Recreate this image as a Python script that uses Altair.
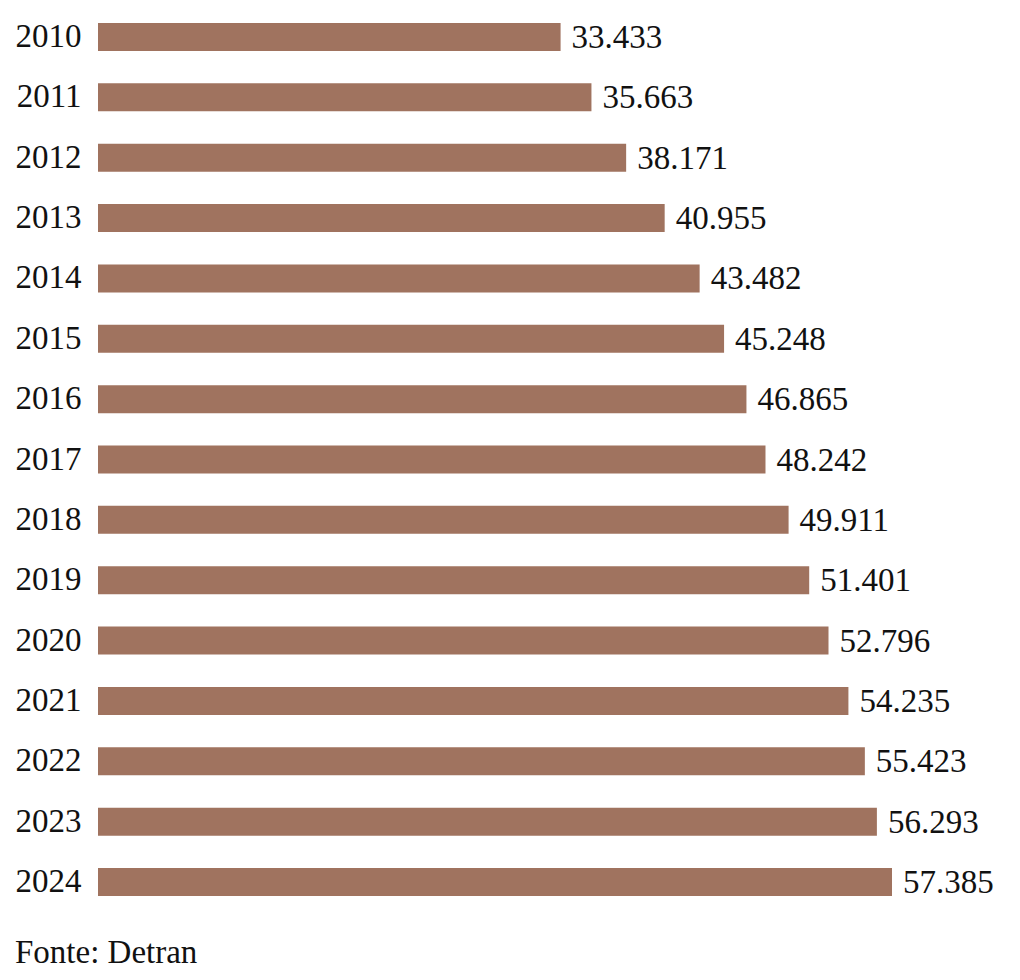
import altair as alt
import pandas as pd

years = ["2010", "2011", "2012", "2013", "2014", "2015", "2016", "2017",
         "2018", "2019", "2020", "2021", "2022", "2023", "2024"]
values = [33433, 35663, 38171, 40955, 43482, 45248, 46865, 48242,
          49911, 51401, 52796, 54235, 55423, 56293, 57385]

df = pd.DataFrame({"ano": years, "valor": values})

FONT = "Liberation Serif"
FS = 33

base = alt.Chart(df).encode(
    y=alt.Y("ano:N", sort=years, title=None,
            scale=alt.Scale(paddingInner=0.536, paddingOuter=0.2485),
            axis=alt.Axis(domain=False, ticks=False, grid=False,
                          labelFont=FONT, labelFontSize=FS, labelColor="#111111",
                          labelPadding=17)),
    x=alt.X("valor:Q", axis=None, scale=alt.Scale(domain=[0, 57385], nice=False, zero=True)),
)

bars = base.mark_bar(color="#a0735f")

labels = base.transform_calculate(
    rotulo="replace(format(datum.valor, ','), ',', '.')"
).mark_text(align="left", baseline="middle", dx=11, dy=1, font=FONT, fontSize=FS,
            color="#111111").encode(text="rotulo:N")

chart = (bars + labels).properties(
    width=794,
    height=903,
    background="white",
    autosize=alt.AutoSizeParams(type="none"),
    padding={"left": 90, "top": 0, "right": 120, "bottom": 65},
    title=alt.TitleParams(text="Fonte: Detran", orient="bottom", anchor="start",
                          frame="bounds", font=FONT, fontSize=FS, fontWeight="normal",
                          color="#111111", offset=26),
).configure_view(strokeWidth=0)

chart.save("out.html", embed_options={"renderer": "svg", "actions": False})
